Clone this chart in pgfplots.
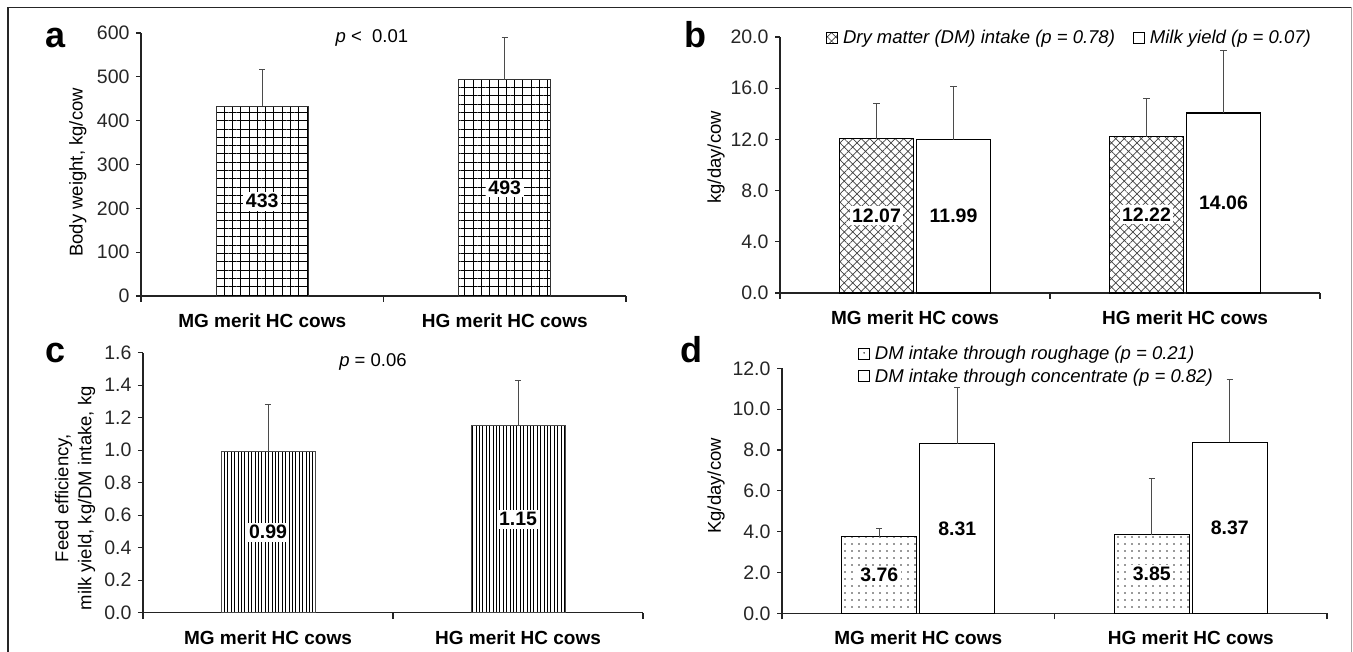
\documentclass[border=0pt]{standalone}
\usepackage{fontspec}
\setmainfont{Liberation Sans}
\usepackage{pgfplots}
\pgfplotsset{compat=1.18}
\usetikzlibrary{patterns.meta}

\definecolor{axisgray}{RGB}{35,35,35}
\definecolor{errgray}{RGB}{75,75,75}

\newcommand{\ticksize}{\fontsize{19.5}{22}\selectfont}
\newcommand{\labsize}{\fontsize{18.5}{23}\selectfont}

\pgfplotsset{
  panel/.style={
    scale only axis, anchor=south west, clip=false,
    xmin=-0.5, xmax=1.5, ymin=0,
    axis x line=bottom, axis y line=left,
    axis line style={-, axisgray, line width=1.2pt},
    tick align=outside, major tick length=5pt,
    ytick style={axisgray, line width=1.2pt},
    xtick={0,1}, xticklabels={MG merit HC cows, HG merit HC cows},
    xtick style={draw=none},
    extra x ticks={-0.5,0.5,1.5}, extra x tick labels={},
    extra x tick style={xtick style={draw=axisgray, line width=1.2pt}, major tick length=6pt},
    /pgf/number format/assume math mode=true,
    yticklabel style={font=\ticksize, text=black!85, xshift=-3pt},
    xticklabel style={font=\fontsize{19}{23}\selectfont\bfseries, yshift=-9pt},
    every axis y label/.style={rotate=90, anchor=center, font=\labsize, align=center},
    ybar,
    error bars/y dir=plus, error bars/y explicit,
    error bars/error mark=-,
    error bars/error bar style={errgray, line width=1pt},
    error bars/error mark options={errgray, line width=1pt, mark size=3.2pt, rotate=90},
    legend image code/.code={\draw[#1, line width=0.8pt] (0pt,-5.5pt) rectangle (11pt,5.5pt);
      \path (14pt,0pt);},
  },
  % value label in the middle of the bar; #1 = half of (pt per unit)
  midlab/.style n args={2}{
    point meta=y,
    nodes near coords={\pgfmathprintnumber[fixed,fixed zerofill,precision=#2]{\pgfplotspointmeta}},
    visualization depends on={rawy \as \rawy},
    every node near coord/.append style={anchor=center, yshift={-#1*\rawy},
      fill=white, inner sep=2.5pt, font=\fontsize{19.5}{22}\selectfont\bfseries, text=black},
  },
}

\begin{document}
\begin{tikzpicture}[x=1pt, y=1pt]
\useasboundingbox (0pt,0pt) rectangle (1353pt,-652pt);
\draw[line width=1.3pt, black!85] (8pt,-652pt) -- (8pt,-7.5pt) -- (1351pt,-7.5pt);
\draw[line width=1pt, black!35] (1351pt,-7.5pt) -- (1351pt,-652pt);

% panel letters
\node[font=\fontsize{36}{36}\selectfont\bfseries, anchor=base] at (56pt,-48pt) {a};
\node[font=\fontsize{36}{36}\selectfont\bfseries, anchor=base] at (695pt,-48pt) {b};
\node[font=\fontsize{36}{36}\selectfont\bfseries, anchor=base] at (56pt,-363pt) {c};
\node[font=\fontsize{36}{36}\selectfont\bfseries, anchor=base] at (691pt,-363pt) {d};

% (a) body weight
\begin{axis}[panel, at={(141pt,-296pt)}, width=485pt, height=263pt,
  ymax=600, ytick={0,100,200,300,400,500,600},
  ylabel={Body weight, kg/cow},
  every axis y label/.append style={at={(axis description cs:-0.13,0.47)}},
  bar width=92pt]
\addplot[draw=black!80, line width=0.9pt, fill=white,
  pattern={Hatch[angle=0, distance=8.3pt, line width=1pt]}, pattern color=black,
  midlab={0.21917}{0}]
  coordinates {(0,433) +- (0,83) (1,493) +- (0,96)};
\node[font=\labsize] at (rel axis cs:0.476,0.981) {\textit{p} <\ \ 0.01};
\end{axis}

% (b) DM intake and milk yield
\begin{axis}[panel, at={(780pt,-293pt)}, width=540pt, height=256pt,
  ymax=20, ytick={0,4,8,12,16,20},
  yticklabel style={/pgf/number format/.cd, fixed, fixed zerofill, precision=1},
  ylabel={kg/day/cow},
  every axis y label/.append style={at={(axis description cs:-0.1185,0.53)}},
  bar width=74pt,
  legend style={draw=none, fill=none, at={(rel axis cs:0.085,0.996)}, anchor=west,
    font=\labsize\itshape, legend columns=2, inner sep=0pt,
    /tikz/every even column/.append style={column sep=16pt}}]
\addplot[bar shift=-38.5pt, draw=black, line width=1.1pt,
  pattern={Hatch[angle=45, distance=6pt, line width=0.7pt]}, pattern color=black!75,
  midlab={6.4}{2}]
  coordinates {(0,12.07) +- (0,2.70) (1,12.22) +- (0,2.96)};
\addlegendentry{Dry matter (DM) intake (p = 0.78)}
\addplot[bar shift=38.5pt, draw=black, line width=1.1pt, fill=white,
  midlab={6.4}{2}]
  coordinates {(0,11.99) +- (0,4.13) (1,14.06) +- (0,4.85)};
\addlegendentry{Milk yield (p = 0.07)}
\end{axis}

% (c) feed efficiency
\begin{axis}[panel, at={(143pt,-612.7pt)}, width=500pt, height=260pt,
  ymax=1.6, ytick={0,0.2,0.4,0.6,0.8,1.0,1.2,1.4,1.6},
  yticklabel style={/pgf/number format/.cd, fixed, fixed zerofill, precision=1},
  ylabel={Feed efficiency,\\milk yield, kg/DM intake, kg},
  every axis y label/.append style={at={(axis description cs:-0.136,0.44)}},
  bar width=94pt]
\addplot[draw=black!70, line width=0.9pt, fill=white,
  pattern={Lines[angle=90, distance=3.4pt, line width=0.9pt]}, pattern color=black,
  midlab={81.25}{2}]
  coordinates {(0,0.99) +- (0,0.29) (1,1.15) +- (0,0.28)};
\node[font=\labsize] at (rel axis cs:0.46,0.964) {\textit{p} = 0.06};
\end{axis}

% (d) DM intake by roughage and concentrate
\begin{axis}[panel, at={(782pt,-613.3pt)}, width=545pt, height=245pt,
  ymax=12, ytick={0,2,4,6,8,10,12},
  yticklabel style={/pgf/number format/.cd, fixed, fixed zerofill, precision=1},
  ylabel={Kg/day/cow},
  every axis y label/.append style={at={(axis description cs:-0.121,0.52)}},
  bar width=75pt,
  legend style={draw=none, fill=none, at={(rel axis cs:0.139,1.10)}, anchor=north west,
    font=\labsize\itshape, inner sep=0pt, row sep=4pt},
  legend cell align=left]
\addplot[bar shift=-39pt, draw=black, line width=1.1pt,
  pattern={Dots[distance=6.5pt, radius=0.9pt]}, pattern color=black!80,
  midlab={10.208}{2}]
  coordinates {(0,3.76) +- (0,0.38) (1,3.85) +- (0,2.76)};
\addlegendentry{DM intake through roughage (p = 0.21)}
\addplot[bar shift=39pt, draw=black, line width=1.1pt, fill=white,
  midlab={10.208}{2}]
  coordinates {(0,8.31) +- (0,2.76) (1,8.37) +- (0,3.06)};
\addlegendentry{DM intake through concentrate (p = 0.82)}
\end{axis}
\end{tikzpicture}
\end{document}
